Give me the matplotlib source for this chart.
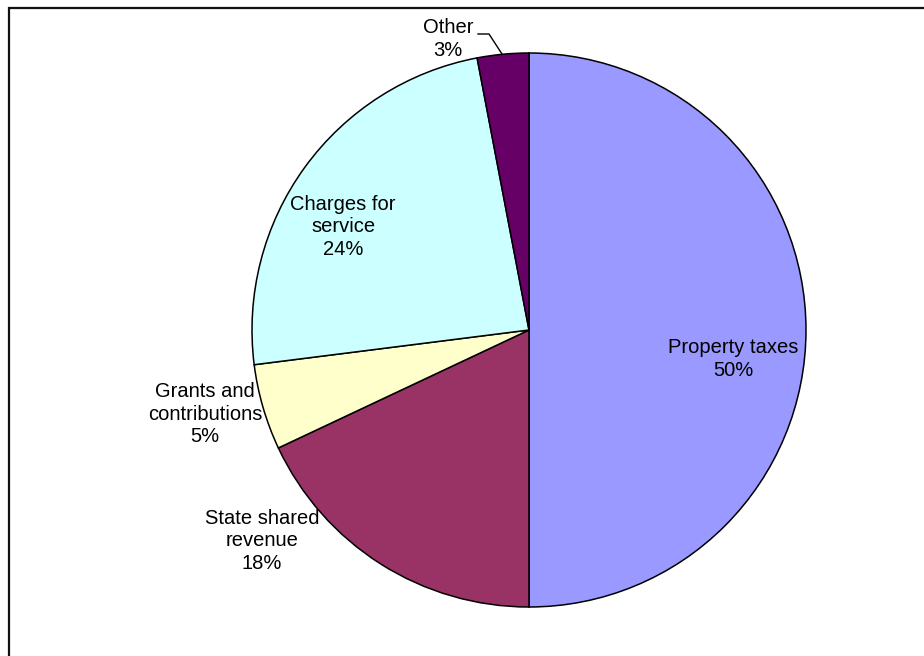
import matplotlib
matplotlib.use("Agg")
import matplotlib.pyplot as plt
from matplotlib.patches import Rectangle

W, H = 924, 656

# revenue sources, percent of total
sources = ["Property taxes", "State shared\nrevenue", "Grants and\ncontributions",
           "Charges for\nservice", "Other"]
shares = [50, 18, 5, 24, 3]
colors = ["#9999FF", "#993366", "#FFFFCC", "#CCFFFF", "#660066"]

# label centres in pixels (x, y from top)
label_pos = [(733, 359), (262, 541), (205, 414), (343, 227), (448, 39)]

plt.rcParams['font.family'] = ['Liberation Sans', 'DejaVu Sans']

fig = plt.figure(figsize=(W / 100, H / 100), dpi=100)
ax = fig.add_axes([0, 0, 1, 1])

cx, cy, r = 529, H - 330, 277
ax.pie(shares, colors=colors, startangle=90, counterclock=False,
       center=(cx, cy), radius=r, frame=True,
       wedgeprops=dict(edgecolor="black", linewidth=1.1))

for name, val, (x, y) in zip(sources, shares, label_pos):
    ax.text(x, H - y, "{}\n{}%".format(name, val), ha="center", va="center",
            fontsize=14.5, linespacing=1.22, color="black")

# leader line for the small slice
ax.plot([478, 489, 502], [H - 34, H - 34, H - 54], color="black", lw=1)

ax.set_xlim(0, W)
ax.set_ylim(0, H)
ax.set_aspect("equal")
ax.axis("off")

# chart frame, runs off the right and bottom edges
ax.add_patch(Rectangle((8.5, -20), W + 20, H - 7.5 + 20, fill=False,
                       edgecolor="#111111", linewidth=1.6, clip_on=False))

fig.savefig("out.png", dpi=100)
